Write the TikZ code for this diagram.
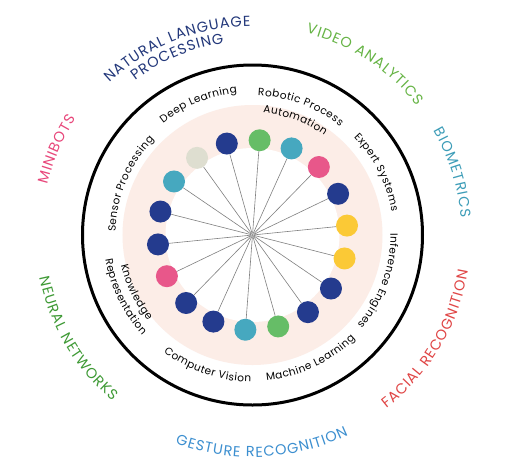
\documentclass[tikz,border=0pt]{standalone}
\usepackage{fontspec}
\usetikzlibrary{decorations.text}
\newfontfamily\pop{Poppins}
\definecolor{cnavy}{HTML}{243B8E}
\definecolor{cgreen}{HTML}{66BD67}
\definecolor{cteal}{HTML}{46A8BF}
\definecolor{cpink}{HTML}{E8578A}
\definecolor{cyellow}{HTML}{FBC936}
\definecolor{cbeige}{HTML}{DEDED0}
\definecolor{bgpink}{HTML}{FCEDE7}
\definecolor{tnlp}{HTML}{22377A}
\definecolor{tvideo}{HTML}{66B445}
\definecolor{tbio}{HTML}{3D9DB8}
\definecolor{tfacial}{HTML}{E04545}
\definecolor{tgesture}{HTML}{3C8FD0}
\definecolor{tneural}{HTML}{3E9A35}
\definecolor{tmini}{HTML}{E8467A}
\newcommand\innerfont{\pop\fontsize{10.5}{12}\selectfont\kern0.45pt}
\newcommand\outerfont{\pop\fontsize{14.5}{16}\selectfont\kern0.9pt}
% #1 radius, #2 start angle, #3 end angle, #4 format, #5 text
\newcommand\curvetext[5]{%
  \path[decorate,decoration={text along path,text align=center,text={|#4|#5}}]
    (#2:#1pt) arc[start angle=#2,end angle=#3,radius=#1pt];}
% tops outward (clockwise), centred at angle #2
\newcommand\outtext[4]{\curvetext{#1}{\fpeval{#2+50}}{\fpeval{#2-50}}{#3}{#4}}
% tops inward (counter-clockwise)
\newcommand\intext[4]{\curvetext{#1}{\fpeval{#2-50}}{\fpeval{#2+50}}{#3}{#4}}
\tikzset{
  dot/.style={circle,inner sep=0pt,minimum size=22pt},
  spoke/.style={draw=gray,line width=0.6pt},
  hubstyle/.style={circle,fill=gray!80,inner sep=0pt,minimum size=3pt},
}
\begin{document}
\begin{tikzpicture}
\useasboundingbox[fill=white] (-252.5pt,-240pt) rectangle (253.5pt,235pt);
\fill[bgpink] (0,0) circle[radius=130pt];
\fill[white] (0,0) circle[radius=87pt];
\draw[line width=3pt] (0,0) circle[radius=170pt];
\node[hubstyle] (hub) at (0,0) {};
\foreach \c [count=\i from 0] in {cnavy,cgreen,cteal,cpink,cnavy,cyellow,cyellow,cnavy,cnavy,cgreen,cteal,cnavy,cnavy,cpink,cnavy,cnavy,cteal,cbeige}{
  \node[dot,fill=\c] (d\i) at ({105.7-20*\i}:95pt) {};
  \draw[spoke] (hub) -- (d\i);
}
% inner labels
\outtext{143}{112.5}{\innerfont}{Deep Learning}
\outtext{139.5}{69.5}{\innerfont}{Robotic Process}
\outtext{122.5}{69.7}{\innerfont}{Automation}
\outtext{141}{26.9}{\innerfont}{Expert Systems}
\outtext{138}{-19.8}{\innerfont}{Inference Engines}
\intext{146}{-65}{\innerfont}{Machine Learning}
\intext{147}{-109}{\innerfont}{Computer Vision}
\intext{135}{206}{\innerfont}{Knowledge}
\intext{149}{205.8}{\innerfont}{Representation}
\outtext{137}{157.4}{\innerfont}{Sensor Processing}
% outer labels
\outtext{209}{112}{\outerfont\color{tnlp}}{NATURAL LANGUAGE}
\outtext{194}{113}{\outerfont\color{tnlp}}{PROCESSING}
\outtext{209}{56.8}{\outerfont\color{tvideo}}{VIDEO ANALYTICS}
\outtext{209}{17.5}{\outerfont\color{tbio}}{BIOMETRICS}
\intext{219}{-31}{\outerfont\color{tfacial}}{FACIAL RECOGNITION}
\intext{222}{-87.5}{\outerfont\color{tgesture}}{GESTURE RECOGNITION}
\intext{217}{210.5}{\outerfont\color{tneural}}{NEURAL NETWORKS}
\outtext{211}{156.5}{\outerfont\color{tmini}}{MINIBOTS}
\end{tikzpicture}
\end{document}
